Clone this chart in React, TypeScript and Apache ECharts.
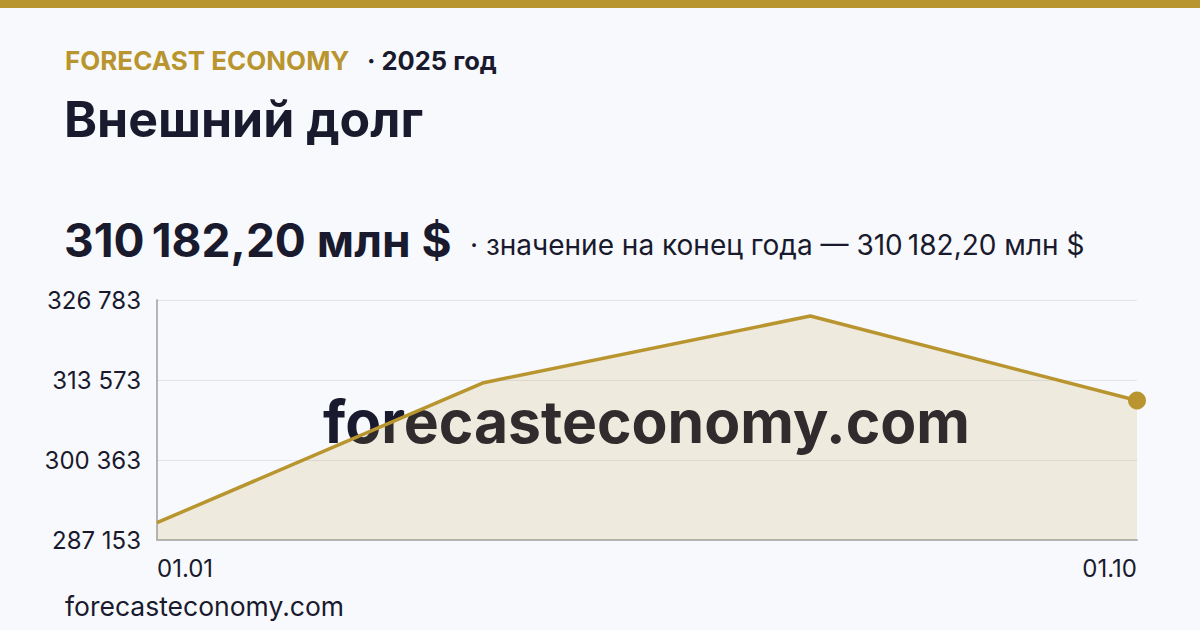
import React, { useEffect, useRef } from "react";
import * as echarts from "echarts";

const categories = ["01.01", "01.04", "01.07", "01.10"];
const debtValues = [290010, 313127, 324141, 310182.2];
const yTicks = [287153, 300363, 313573, 326783];
const brand = "FORECAST ECONOMY";
const yearLabel = "· 2025 год";
const title = "Внешний долг";
const bigValue = "310\u202f182,20 млн $";
const subValue = "· значение на конец года — 310\u202f182,20 млн $";
const site = "forecasteconomy.com";

const GOLD = "#b8952e";
const DARK = "#1a1a2e";
const FONT = "Inter";

const fmt = (v: number) =>
  Math.round(v)
    .toString()
    .replace(/\B(?=(\d{3})+(?!\d))/g, " ");

export default function App() {
  const ref = useRef<HTMLDivElement>(null);
  useEffect(() => {
    document.body.style.margin = "0";
    const chart = echarts.init(ref.current!, null, { renderer: "svg" });
    const lastIdx = debtValues.length - 1;
    chart.setOption({
      animation: false,
      backgroundColor: "#f8f9fc",
      grid: { left: 157, right: 63, top: 300, bottom: 90 },
      xAxis: {
        type: "category",
        data: categories,
        boundaryGap: false,
        axisLine: { lineStyle: { color: "#b5b5b8", width: 2 } },
        axisTick: { show: false },
        axisLabel: {
          color: DARK,
          fontFamily: FONT,
          fontSize: 24,
          margin: 16,
          interval: (i: number) => i === 0 || i === lastIdx,
          alignMinLabel: "left",
          alignMaxLabel: "right",
        },
        splitLine: { show: false },
      },
      yAxis: {
        type: "value",
        min: yTicks[0],
        max: yTicks[yTicks.length - 1],
        axisLine: { show: true, lineStyle: { color: "#b5b5b8", width: 2 } },
        axisTick: { show: false, customValues: yTicks },
        axisLabel: {
          color: DARK,
          fontFamily: FONT,
          fontSize: 24,
          margin: 16,
          customValues: yTicks,
          formatter: (v: number) => fmt(v),
        },
        splitLine: { show: true, lineStyle: { color: "#e3e4ea", width: 1 } },
      },
      graphic: [
        { type: "rect", left: 0, top: 0, shape: { width: 1200, height: 8 }, style: { fill: GOLD }, z: 10 },
        {
          type: "text", left: 65, top: 47, z: 10,
          style: { text: brand, fill: GOLD, font: `bold 26px ${FONT}` },
        },
        {
          type: "text", left: 367, top: 47, z: 10,
          style: { text: yearLabel, fill: DARK, font: `bold 25.5px ${FONT}` },
        },
        {
          type: "text", left: 64, top: 94, z: 10,
          style: { text: title, fill: DARK, font: `bold 50px ${FONT}` },
        },
        {
          type: "text", left: 64, top: 217, z: 10,
          style: { text: bigValue, fill: DARK, font: `bold 46px ${FONT}` },
        },
        {
          type: "text", left: 470, top: 231, z: 10,
          style: { text: subValue, fill: DARK, font: `28px ${FONT}` },
        },
        {
          type: "text", left: 65, top: 592, z: 10,
          style: { text: site, fill: DARK, font: `26.5px ${FONT}` },
        },
        {
          type: "text", left: 323, top: 392, z: 0,
          style: { text: site, fill: DARK, font: `bold 58.8px ${FONT}` },
        },
      ],
      series: [
        {
          type: "line",
          data: debtValues.map((v, i) => ({
            value: v,
            symbol: i === lastIdx ? "circle" : "none",
            symbolSize: 18,
          })),
          showSymbol: true,
          lineStyle: { color: GOLD, width: 3.5 },
          itemStyle: { color: GOLD },
          areaStyle: { color: GOLD, opacity: 0.14 },
          z: 3,
        },
      ],
    });
    return () => chart.dispose();
  }, []);
  return <div ref={ref} style={{ width: 1200, height: 630 }} />;
}
